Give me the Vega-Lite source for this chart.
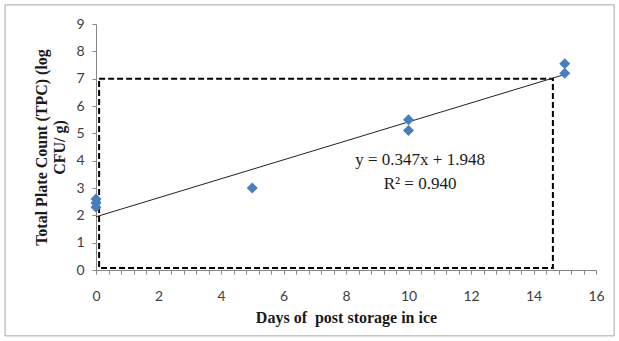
{
  "$schema": "https://vega.github.io/schema/vega-lite/v6.json",
  "autosize": "none",
  "width": 500,
  "height": 246,
  "padding": {"left": 96, "top": 24, "right": 23, "bottom": 71},
  "background": "white",
  "config": {"view": {"stroke": null}},
  "datasets": {
    "points": [
      {"day": 0, "tpc": 2.3},
      {"day": 0, "tpc": 2.45},
      {"day": 0, "tpc": 2.6},
      {"day": 5, "tpc": 3.0},
      {"day": 10, "tpc": 5.1},
      {"day": 10, "tpc": 5.5},
      {"day": 15, "tpc": 7.2},
      {"day": 15, "tpc": 7.55}
    ],
    "trend": [
      {"day": 0, "tpc": 1.948},
      {"day": 15, "tpc": 7.153}
    ],
    "box": [{"x1": 0.1, "x2": 14.62, "y1": 0.07, "y2": 7}],
    "frame": [{"x1": -2.91, "x2": 16.58, "y1": -2.41, "y2": 9.7}],
    "labels": [
      {"day": 10.37, "tpc": 4.02, "label": "y = 0.347x + 1.948"},
      {"day": 10.37, "tpc": 3.15, "label": "R² = 0.940"}
    ]
  },
  "layer": [
    {
      "data": {"name": "frame"},
      "mark": {"type": "rect", "fill": null, "stroke": "#a6a6a6", "strokeWidth": 1, "clip": false},
      "encoding": {
        "x": {"field": "x1", "type": "quantitative", "scale": {"domain": [0, 16], "nice": false, "zero": false}},
        "x2": {"field": "x2"},
        "y": {"field": "y1", "type": "quantitative", "scale": {"domain": [0, 9], "nice": false, "zero": false}},
        "y2": {"field": "y2"}
      }
    },
    {
      "data": {"name": "box"},
      "mark": {"type": "rect", "fill": null, "stroke": "black", "strokeWidth": 2, "strokeDash": [6, 3]},
      "encoding": {
        "x": {"field": "x1", "type": "quantitative"},
        "x2": {"field": "x2"},
        "y": {"field": "y1", "type": "quantitative"},
        "y2": {"field": "y2"}
      }
    },
    {
      "data": {"name": "trend"},
      "mark": {"type": "line", "color": "#222222", "strokeWidth": 1},
      "encoding": {
        "x": {"field": "day", "type": "quantitative"},
        "y": {"field": "tpc", "type": "quantitative"}
      }
    },
    {
      "data": {"name": "points"},
      "mark": {"type": "point", "shape": "diamond", "filled": true, "color": "#4a7ebb", "size": 120, "opacity": 1},
      "encoding": {
        "x": {
          "field": "day", "type": "quantitative",
          "scale": {"domain": [0, 16], "nice": false},
          "axis": {
            "values": [0,0.4,0.8,1.2,1.6,2,2.4,2.8,3.2,3.6,4,4.4,4.8,5.2,5.6,6,6.4,6.8,7.2,7.6,8,8.4,8.8,9.2,9.6,10,10.4,10.8,11.2,11.6,12,12.4,12.8,13.2,13.6,14,14.4,14.8,15.2,15.6,16],
            "tickCount": 200,
            "labelExpr": "abs(datum.value - round(datum.value/2)*2) < 0.001 ? format(datum.value, 'd') : ''",
            "title": "Days of\u00a0 post storage in ice",
            "grid": false,
            "domainColor": "#868686",
            "tickColor": "#868686",
            "tickSize": 4,
            "labelPadding": 15,
            "labelFont": "Lato",
            "labelFontSize": 14,
            "labelColor": "#404040",
            "labelFlush": false,
            "labelOverlap": false,
            "titleFont": "Liberation Serif",
            "titleFontSize": 16,
            "titleFontWeight": "bold",
            "titleColor": "#1a1a1a",
            "titlePadding": 6
          }
        },
        "y": {
          "field": "tpc", "type": "quantitative",
          "scale": {"domain": [0, 9], "nice": false},
          "axis": {
            "values": [0,1,2,3,4,5,6,7,8,9],
            "tickCount": 50,
            "format": "d",
            "title": ["Total Plate Count (TPC) (log", "CFU/ g)"],
            "grid": false,
            "domainColor": "#868686",
            "tickColor": "#868686",
            "tickSize": 4,
            "labelPadding": 8,
            "labelFont": "Lato",
            "labelFontSize": 14,
            "labelColor": "#404040",
            "labelFlush": false,
            "labelOverlap": false,
            "titleFont": "Liberation Serif",
            "titleFontSize": 16,
            "titleFontWeight": "bold",
            "titleColor": "#1a1a1a",
            "titleLineHeight": 18,
            "titlePadding": 8
          }
        }
      }
    },
    {
      "data": {"name": "labels"},
      "mark": {"type": "text", "font": "Liberation Serif", "fontSize": 17, "color": "#1a1a1a", "align": "center", "baseline": "middle"},
      "encoding": {
        "x": {"field": "day", "type": "quantitative"},
        "y": {"field": "tpc", "type": "quantitative"},
        "text": {"field": "label"}
      }
    }
  ]
}
